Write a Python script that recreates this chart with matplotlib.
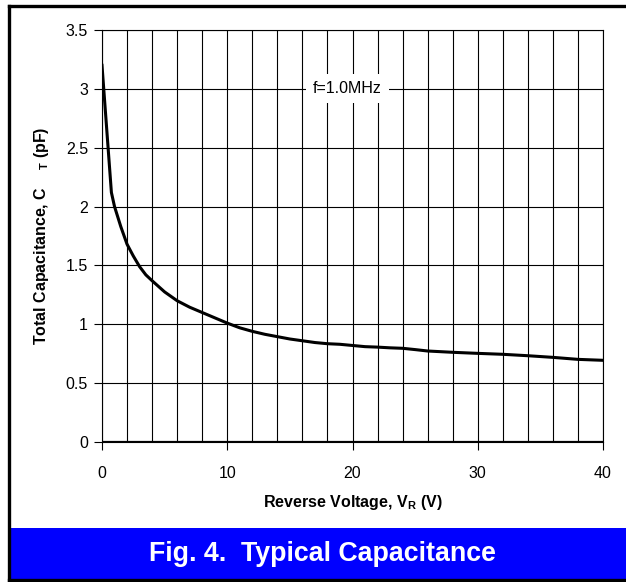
import matplotlib
matplotlib.use("Agg")
import matplotlib.pyplot as plt
from matplotlib.patches import Rectangle
from matplotlib.lines import Line2D

plt.rcParams["font.family"] = "sans-serif"
plt.rcParams["font.sans-serif"] = ["Liberation Sans", "DejaVu Sans"]
plt.rcParams["mathtext.fontset"] = "custom"
plt.rcParams["mathtext.rm"] = "Liberation Sans"
plt.rcParams["mathtext.bf"] = "Liberation Sans:bold"
plt.rcParams["mathtext.default"] = "bf"

# reverse voltage (V) and total capacitance (pF)
vr = [0, 0.75, 1, 1.5, 2, 2.5, 3, 3.5, 4, 5, 6, 7, 8, 9, 10, 11, 12, 13, 14, 15,
      16, 17, 18, 19, 20, 21, 22, 23, 24, 25, 26, 28, 30, 32, 34, 36, 38, 40]
ct = [3.2, 2.12, 2.0, 1.83, 1.68, 1.58, 1.49, 1.42, 1.37, 1.275, 1.20, 1.145, 1.10,
      1.055, 1.01, 0.97, 0.94, 0.915, 0.895, 0.875, 0.86, 0.845, 0.835, 0.83,
      0.82, 0.81, 0.806, 0.80, 0.796, 0.785, 0.773, 0.762, 0.753, 0.745,
      0.733, 0.719, 0.702, 0.694]

x_ticks = [0, 10, 20, 30, 40]
x_grid = list(range(0, 41, 2))
y_ticks = [0, 0.5, 1, 1.5, 2, 2.5, 3, 3.5]
y_tick_labels = ["0", "0.5", "1", "1.5", "2", "2.5", "3", "3.5"]

W, H = 626, 582
fig = plt.figure(figsize=(W / 100, H / 100), dpi=100)
ax = fig.add_axes([102 / W, 1 - 442 / H, (603 - 102) / W, (442 - 30) / H])

for gx in x_grid:
    ax.axvline(gx, color="black", linewidth=0.8, zorder=1)
for gy in y_ticks:
    ax.axhline(gy, color="black", linewidth=0.8, zorder=1)
ax.axhline(0, color="black", linewidth=1.6, zorder=2)

ax.plot(vr, ct, color="black", linewidth=2.2, zorder=4)

ax.text(19.6, 3.0, "f=1.0MHz", fontsize=11.5, ha="center", va="center", zorder=3,
        bbox=dict(facecolor="white", edgecolor="none", pad=5))

ax.set_xlim(0, 40)
ax.set_ylim(0, 3.5)
ax.set_xticks(x_ticks)
ax.set_xticklabels([str(t) for t in x_ticks])
ax.set_yticks(y_ticks)
ax.set_yticklabels(y_tick_labels)
ax.tick_params(axis="x", labelsize=11.5, length=6, width=0.8, pad=11, direction="out")
ax.tick_params(axis="y", labelsize=11.5, length=6, width=0.8, pad=4, direction="out")
for spine in ax.spines.values():
    spine.set_linewidth(0.8)
    spine.set_color("black")

ax.set_xlabel(r"Reverse Voltage, V$_{R}$ (V)", fontsize=11.5, fontweight="bold", labelpad=9)
ax.set_ylabel(r"Total Capacitance, C    $_{T}$ (pF)", fontsize=11.5, fontweight="bold", labelpad=11)

# outer frame and caption band
fig.patches.append(Rectangle((10 / W, 1 - 579 / H), 620 / W, 51 / H,
                             transform=fig.transFigure, facecolor="#0000FF",
                             edgecolor="none", zorder=1))
for xs, ys in [([8.5 / W, 8.5 / W], [1 - 6 / H, 1 - 580 / H]),
               ([8.5 / W, 1.02], [1 - 6 / H, 1 - 6 / H]),
               ([8.5 / W, 1.02], [1 - 580 / H, 1 - 580 / H])]:
    fig.lines.append(Line2D(xs, ys, transform=fig.transFigure, color="black", linewidth=2.4))

fig.text(322 / W, 1 - 554 / H, "Fig. 4.  Typical Capacitance", color="white",
         fontsize=19.3, fontweight="bold", ha="center", va="center")

fig.savefig("out.png", dpi=100)
